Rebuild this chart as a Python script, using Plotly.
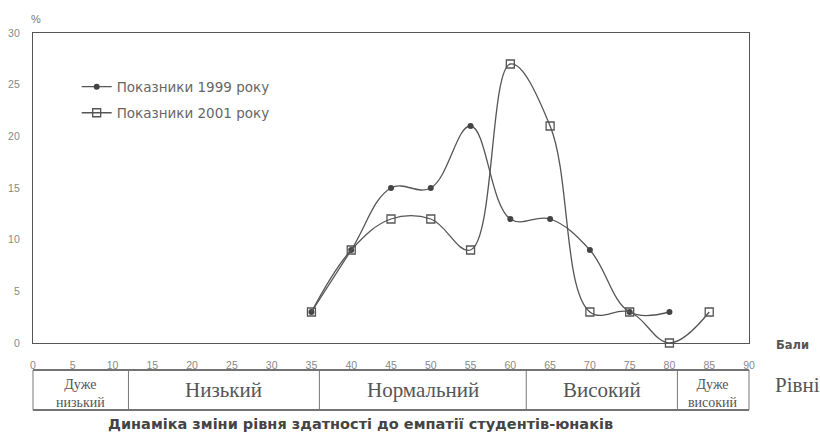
import plotly.graph_objects as go

# ---- data ----
scores_1999 = [35, 40, 45, 50, 55, 60, 65, 70, 75, 80]
values_1999 = [3, 9, 15, 15, 21, 12, 12, 9, 3, 3]
scores_2001 = [35, 40, 45, 50, 55, 60, 65, 70, 75, 80, 85]
values_2001 = [3, 9, 12, 12, 9, 27, 21, 3, 3, 0, 3]
x_ticks = list(range(0, 95, 5))
y_ticks = [0, 5, 10, 15, 20, 25, 30]
level_names = ["Дуже<br>низький", "Низький", "Нормальний", "Високий", "Дуже<br>високий"]
level_bounds = [0, 12, 36, 62, 81, 90]
series_names = ["Показники 1999 року", "Показники 2001 року"]
title_text = "Динаміка зміни рівня здатності до емпатії студентів-юнаків"

LINE = "#555555"
TXT = "#666666"
SANS = "Liberation Sans, Arial, sans-serif"
WIDE = "DejaVu Sans, Verdana, sans-serif"
SERIF = "Liberation Serif, Times New Roman, serif"

fig = go.Figure()
fig.add_trace(go.Scatter(
    x=scores_1999, y=values_1999, name=series_names[0], mode="lines+markers",
    line=dict(color=LINE, width=1.3, shape="spline", smoothing=1.1),
    marker=dict(symbol="circle", size=6, color="#444444"),
    legend="legend", cliponaxis=False))
fig.add_trace(go.Scatter(
    x=scores_2001, y=values_2001, name=series_names[1], mode="lines+markers",
    line=dict(color=LINE, width=1.3, shape="spline", smoothing=1.1),
    marker=dict(symbol="square-open", size=8, color="#555555",
                line=dict(width=1.3)),
    legend="legend2", cliponaxis=False))

TOP, BOT = -0.087, -0.216
shapes = []
# table horizontal lines
for yy in (TOP, BOT):
    shapes.append(dict(type="line", xref="paper", yref="paper", x0=0, x1=1,
                       y0=yy, y1=yy, line=dict(color="#444444", width=1.5)))
# table vertical dividers
for b in level_bounds:
    shapes.append(dict(type="line", xref="paper", yref="paper",
                       x0=b / level_bounds[-1], x1=b / level_bounds[-1],
                       y0=TOP, y1=BOT, line=dict(color="#777777", width=1)))

annotations = []
for i, name in enumerate(level_names):
    mid = (level_bounds[i] + level_bounds[i + 1]) / 2
    small = "<br>" in name
    annotations.append(dict(
        x=mid, y=(TOP + BOT) / 2 - (0.012 if small else 0.0), xref="x", yref="paper",
        text=name, showarrow=False,
        font=dict(family=SERIF, size=14 if small else 21, color="#555555"),
        xanchor="center", yanchor="middle"))
annotations += [
    dict(x=1.033, y=-0.135, xref="paper", yref="paper", text="Рівні", showarrow=False,
         font=dict(family=SERIF, size=21, color="#555555"), xanchor="left", yanchor="middle"),
    dict(x=1.035, y=-0.005, xref="paper", yref="paper", text="<b>Бали</b>", showarrow=False,
         font=dict(family=WIDE, size=11.5, color="#555555"), xanchor="left", yanchor="middle"),
    dict(x=-0.005, y=1.045, xref="paper", yref="paper", text="%", showarrow=False,
         font=dict(family=SANS, size=11, color="#777777"), xanchor="left", yanchor="middle"),
    dict(x=0.457, y=-0.262, xref="paper", yref="paper", text="<b>" + title_text + "</b>",
         showarrow=False, font=dict(family=WIDE, size=14.5, color="#444444"),
         xanchor="center", yanchor="middle"),
]

fig.update_layout(
    width=820, height=434,
    margin=dict(l=33, r=71, t=33, b=91),
    paper_bgcolor="white", plot_bgcolor="white",
    font=dict(family=SANS, color=TXT),
    showlegend=True,
    legend=dict(x=0.061, y=0.826, xanchor="left", yanchor="middle",
                bgcolor="rgba(0,0,0,0)", font=dict(family=WIDE, size=13.5, color="#666666")),
    legend2=dict(x=0.061, y=0.742, xanchor="left", yanchor="middle",
                 bgcolor="rgba(0,0,0,0)", font=dict(family=WIDE, size=13.5, color="#666666")),
    xaxis=dict(range=[0, 90], tickvals=x_ticks, ticktext=[str(t) for t in x_ticks],
               showgrid=False, zeroline=False, showline=True, mirror=True,
               linecolor="#555555", linewidth=1.3, ticks="", automargin=False,
               ticklabelstandoff=12, tickfont=dict(size=10.5, color="#888888")),
    yaxis=dict(range=[0, 30], tickvals=y_ticks, showgrid=False, zeroline=False,
               showline=True, mirror=True, linecolor="#555555", linewidth=1.3,
               ticks="", automargin=False, ticklabelstandoff=10,
               tickfont=dict(size=10.5, color="#888888")),
    shapes=shapes, annotations=annotations,
)

fig.write_html("out.html", config={"displayModeBar": False},
               post_script="document.body.style.margin='0';document.body.style.overflow='hidden';")
